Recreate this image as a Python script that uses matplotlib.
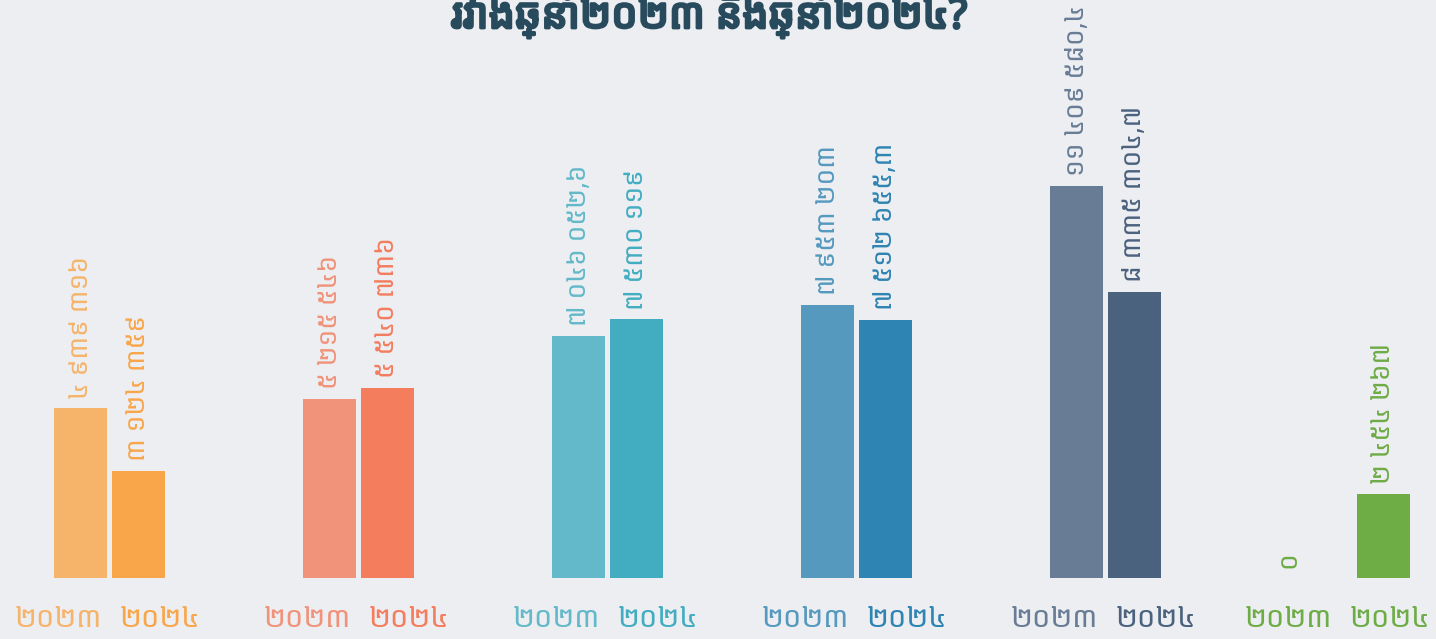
import matplotlib
matplotlib.use('Agg')
import matplotlib.pyplot as plt
import matplotlib.patheffects as pe

# Data
years = ['២០២៣', '២០២៤']
values_2023 = [4939316, 5215546, 7046052.6, 7953203, 11409580.4, 0]
values_2024 = [3124359, 5540736, 7530119, 7512655.3, 8335304.7, 2454267]
labels_2023 = ['៤ ៩៣៩ ៣១៦', '៥ ២១៥ ៥៤៦', '៧ ០៤៦ ០៥២,៦', '៧ ៩៥៣ ២០៣', '១១ ៤០៩ ៥៨០,៤', '០']
labels_2024 = ['៣ ១២៤ ៣៥៩', '៥ ៥៤០ ៧៣៦', '៧ ៥៣០ ១១៩', '៧ ៥១២ ៦៥៥,៣', '៨ ៣៣៥ ៣០៤,៧', '២ ៤៥៤ ២៦៧']
title = 'រវាងឆ្នាំ២០២៣ និងឆ្នាំ២០២៤?'

colors_2023 = ['#f6b46b', '#f0937a', '#63b9c9', '#5599be', '#687d95', '#6eac46']
colors_2024 = ['#f9a64a', '#f47d5e', '#42adc1', '#2e84b2', '#4a627e', '#6eac46']
bg = '#edeef2'
title_color = '#284a5d'

plt.rcParams['font.family'] = ['Noto Sans Khmer', 'DejaVu Sans']

fig = plt.figure(figsize=(14.36, 6.39), dpi=100, facecolor=bg)
ax = fig.add_axes([0, 0, 1, 1])
ax.set_facecolor(bg)

pitch = 249.0
x0 = 109.5
ax.set_xlim(-x0 / pitch, (1436 - x0) / pitch)
ppm = 34.35 / 1e6  # pixels per unit value
ax.set_ylim(-61 / ppm, 578 / ppm)

off = 0.1155
w = 0.212
n = len(values_2023)
for i in range(n):
    # last group sits against the right edge, so its labels are pulled in
    last = (i == n - 1)
    t23 = i - (0.265 if last else 0.206)
    t24 = i + (0.143 if last else 0.203)
    b23 = t23 if last else i - off
    b24 = i + off
    for x, tx, v, lab, c, tick in [(b23, t23, values_2023[i], labels_2023[i], colors_2023[i], years[0]),
                                   (b24, t24, values_2024[i], labels_2024[i], colors_2024[i], years[1])]:
        ax.bar(x, v, width=w, color=c, linewidth=0)
        ax.annotate(lab, (x, v), xytext=(0, 7), textcoords='offset points',
                    rotation=90, rotation_mode='anchor', ha='left', va='center',
                    color=c, fontsize=19)
        ax.annotate(tick, (tx, 0), xytext=(0, -35), textcoords='offset points',
                    ha='center', va='baseline', color=c, fontsize=21)

fig.text(0.494, 1 - 28 / 639, title, ha='center', va='baseline', fontsize=30,
         color=title_color,
         path_effects=[pe.withStroke(linewidth=2, foreground=title_color)])

ax.axis('off')
fig.savefig('out.png', dpi=100, facecolor=bg)
